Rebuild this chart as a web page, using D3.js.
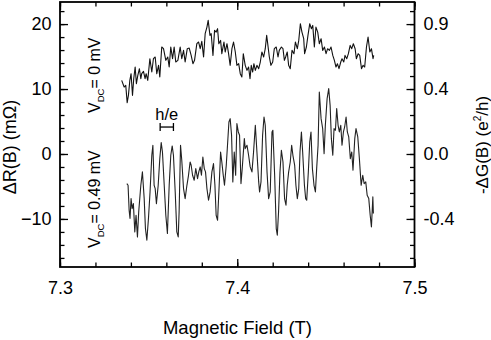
<!DOCTYPE html>
<html>
<head>
<meta charset="utf-8">
<script src="https://cdn.jsdelivr.net/npm/d3@7"></script>
<style>
  body { margin: 0; background: #fff; }
  svg text { font-family: "Liberation Sans", Arial, Helvetica, sans-serif; fill: #000; }
</style>
</head>
<body>
<div id="chart"></div>
<script>
// axis ticks
const xTicks = [7.3, 7.4, 7.5];
const leftTicks = [20, 10, 0, -10];
const rightTickLabels = ["0.9", "0.4", "0.0", "-0.4"];

// V_DC = 0 mV trace : magnetic field (T) and dR (mOhm)
const upperField = [
  7.3348, 7.3362, 7.3371, 7.3379, 7.3386, 7.3394, 7.3401, 7.3409, 7.3416, 7.3424,
  7.3431, 7.3439, 7.3448, 7.3456, 7.3461, 7.3471, 7.3480, 7.3486, 7.3495, 7.3507,
  7.3518, 7.3527, 7.3537, 7.3546, 7.3556, 7.3563, 7.3574, 7.3584, 7.3597, 7.3608,
  7.3616, 7.3625, 7.3635, 7.3644, 7.3653, 7.3665, 7.3678, 7.3687, 7.3697, 7.3706,
  7.3718, 7.3729, 7.3740, 7.3750, 7.3759, 7.3772, 7.3782, 7.3791, 7.3800, 7.3810,
  7.3819, 7.3829, 7.3836, 7.3846, 7.3853, 7.3863, 7.3872, 7.3881, 7.3889, 7.3896,
  7.3906, 7.3913, 7.3925, 7.3932, 7.3942, 7.3951, 7.3960, 7.3970, 7.3979, 7.3989,
  7.3998, 7.4008, 7.4017, 7.4026, 7.4034,
  7.4045, 7.4055, 7.4064, 7.4072, 7.4079, 7.4087, 7.4094, 7.4102, 7.4111, 7.4121,
  7.4130, 7.4139, 7.4149, 7.4158, 7.4166, 7.4173, 7.4181, 7.4190, 7.4200, 7.4209,
  7.4220, 7.4230, 7.4237, 7.4249, 7.4258, 7.4266, 7.4273, 7.4282, 7.4290, 7.4299,
  7.4309, 7.4320, 7.4328, 7.4339, 7.4347, 7.4356, 7.4365, 7.4375, 7.4380, 7.4390,
  7.4399, 7.4409, 7.4418, 7.4426, 7.4435, 7.4444, 7.4454, 7.4463, 7.4473, 7.4482,
  7.4492, 7.4501, 7.4510, 7.4520, 7.4529, 7.4539, 7.4548, 7.4557, 7.4565, 7.4574,
  7.4584, 7.4591, 7.4601, 7.4608, 7.4618, 7.4627, 7.4637, 7.4646, 7.4655, 7.4665,
  7.4672, 7.4682, 7.4691, 7.4701, 7.4710, 7.4719, 7.4729, 7.4738, 7.4748, 7.4757,
  7.4766, 7.4770
];
const upperDR = [
  11.34, 10.31, 10.57, 7.90, 9.03, 11.34, 12.36, 9.03, 11.59, 13.39,
  10.83, 12.11, 13.13, 11.59, 12.36, 12.72, 11.59, 12.36, 11.34, 14.67,
  12.62, 14.67, 14.93, 12.36, 13.65, 11.85, 16.47, 16.21, 14.42, 14.93,
  13.39, 16.47, 14.67, 16.47, 14.16, 14.42, 16.47, 14.67, 15.95, 14.16,
  16.21, 16.31, 15.18, 13.90, 14.42, 16.98, 17.24, 16.21, 17.34, 14.93,
  18.52, 19.54, 20.57, 18.26, 18.52, 15.18, 19.03, 18.77, 19.29, 16.98,
  17.49, 15.44, 17.24, 15.70, 16.98, 15.44, 13.65, 16.21, 17.24, 15.70,
  13.65, 13.90, 12.36, 11.85, 15.44,
  13.65, 12.88, 13.39, 11.59, 13.65, 12.62, 13.90, 12.88, 13.65, 13.13,
  14.16, 15.70, 14.93, 16.21, 18.26, 16.72, 14.93, 13.65, 14.16, 16.21,
  16.47, 14.93, 15.95, 16.47, 16.21, 14.42, 14.93, 15.70, 13.65, 13.13,
  15.95, 15.44, 17.24, 16.21, 17.49, 20.06, 18.77, 17.75, 15.44, 16.47,
  18.26, 20.06, 19.29, 19.80, 16.47, 19.54, 18.77, 16.98, 17.75, 15.95,
  16.47, 15.44, 16.21, 15.95, 16.47, 15.18, 14.42, 13.39, 13.90, 13.13,
  14.16, 14.67, 14.16, 15.18, 14.67, 15.44, 16.72, 16.21, 16.98, 16.21,
  14.67, 15.44, 15.18, 13.13, 13.65, 13.39, 16.47, 18.01, 15.70, 16.21,
  14.67, 15.18
];

// V_DC = 0.49 mV trace
const lowerField = [
  7.3377, 7.3384, 7.3390, 7.3395, 7.3401, 7.3407, 7.3414, 7.3422, 7.3429, 7.3437,
  7.3444, 7.3456, 7.3465, 7.3475, 7.3482, 7.3490, 7.3499, 7.3508, 7.3518, 7.3524,
  7.3531, 7.3537, 7.3544, 7.3554, 7.3563, 7.3571, 7.3578, 7.3588, 7.3597, 7.3606,
  7.3616, 7.3625, 7.3633, 7.3640, 7.3650, 7.3659, 7.3667, 7.3672, 7.3680, 7.3687,
  7.3697, 7.3706, 7.3716, 7.3725, 7.3734, 7.3740, 7.3748, 7.3757, 7.3766, 7.3776,
  7.3783, 7.3791, 7.3798, 7.3806, 7.3814, 7.3821, 7.3829, 7.3838, 7.3847, 7.3857,
  7.3866, 7.3874, 7.3881, 7.3889, 7.3898, 7.3906, 7.3913, 7.3921, 7.3928, 7.3938,
  7.3945, 7.3953, 7.3960, 7.3968, 7.3975, 7.3983, 7.3991, 7.3998, 7.4006, 7.4013,
  7.4021, 7.4028, 7.4040,
  7.4045, 7.4055, 7.4064, 7.4073, 7.4083, 7.4092, 7.4102, 7.4111, 7.4121, 7.4126,
  7.4134, 7.4143, 7.4151, 7.4158, 7.4168, 7.4177, 7.4186, 7.4196, 7.4201, 7.4211,
  7.4220, 7.4226, 7.4233, 7.4241, 7.4249, 7.4258, 7.4267, 7.4275, 7.4282, 7.4290,
  7.4299, 7.4307, 7.4314, 7.4324, 7.4331, 7.4339, 7.4347, 7.4354, 7.4362, 7.4369,
  7.4379, 7.4386, 7.4392, 7.4401, 7.4409, 7.4416, 7.4424, 7.4433, 7.4441, 7.4448,
  7.4456, 7.4463, 7.4473, 7.4482, 7.4490, 7.4497, 7.4507, 7.4516, 7.4524, 7.4531,
  7.4539, 7.4546, 7.4554, 7.4561, 7.4569, 7.4576, 7.4584, 7.4591, 7.4599, 7.4606,
  7.4614, 7.4621, 7.4629, 7.4638, 7.4646, 7.4653, 7.4663, 7.4670, 7.4680, 7.4689,
  7.4699, 7.4708, 7.4716, 7.4725, 7.4733, 7.4742, 7.4750, 7.4757, 7.4765, 7.4768
];
const lowerDR = [
  -4.56, -4.82, -8.66, -9.94, -6.87, -8.41, -7.64, -11.99, -9.43, -12.76,
  -8.92, -4.82, -2.76, -6.87, -11.48, -13.28, -9.94, -5.84, -0.20, 1.34,
  -4.82, -5.33, -7.64, -4.82, -0.71, 1.75, 0.31, -4.82, -9.43, -12.25,
  -4.82, -0.20, 1.24, -0.20, -5.84, -11.99, -12.76, -8.92, 1.34, -0.97,
  -5.33, -6.87, -4.82, -3.28, -1.23, -1.74, -3.28, -4.05, -2.25, -3.79,
  -2.76, -1.99, -3.28, -0.46, -2.25, -2.76, -5.33, -7.12, -5.84, -2.76,
  -1.48, -4.82, -9.43, -10.20, -4.82, 0.31, -1.23, -3.28, -4.82, -1.74,
  1.34, 4.93, 5.44, 2.88, -4.30, 0.31, -3.28, 4.67, 3.39, 2.88,
  -4.56, -2.25, 2.36,
  0.83, 1.34, -0.20, -1.99, -2.76, 0.31, 4.42, 0.31, -4.30, -5.84,
  -4.30, 2.88, 5.70, 4.42, -2.76, -6.87, -5.84, 3.39, 3.65, -3.28,
  -11.48, -12.51, -8.92, -2.76, 0.57, -1.23, -6.87, -7.89, -4.82, -2.76,
  -1.23, 1.34, -0.20, -1.74, -4.82, -6.87, -5.33, 0.31, 3.39, 0.31,
  -4.82, -6.87, -7.12, -2.76, 1.85, 3.39, -2.25, -4.82, -5.84, -2.25,
  1.34, 9.54, 5.44, 3.90, 0.06, 4.42, 8.52, 10.06, 7.49, 2.36,
  -0.20, 3.90, 3.65, 6.98, 4.42, 3.39, 4.42, 1.34, 3.39, 4.16,
  5.70, 3.39, 2.62, -0.71, 0.31, -2.51, 2.36, 3.90, 2.62, -0.71,
  -4.82, -3.28, -4.56, -4.30, -6.35, -6.87, -9.43, -11.23, -6.61, -9.17
];

// h/e period marker (field span, level in mOhm)
const hePeriod = [7.3565, 7.3640];
const heLevel = 4.15;

const width = 491, height = 340;
const plotLeft = 60, plotRight = 414.5, plotTop = 2, plotBottom = 267;

const svg = d3.select("#chart").append("svg")
    .attr("width", width)
    .attr("height", height);

const x = d3.scaleLinear().domain([7.3, 7.5]).range([plotLeft, plotRight]);
const y = d3.scaleLinear().domain([-17.4, 23.4]).range([plotBottom, plotTop]);

const xMinor = d3.range(0, 11).map(i => +(7.3 + i * 0.02).toFixed(2));
const yMinor = d3.range(-16, 24, 2);

// minor ticks (all four sides, pointing inward)
const minor = (axis, tx, ty) => svg.append("g")
    .attr("class", "minor")
    .attr("transform", `translate(${tx},${ty})`)
    .call(axis.tickSize(-4.5).tickFormat(""));

minor(d3.axisBottom(x).tickValues(xMinor), 0, plotBottom);
minor(d3.axisTop(x).tickValues(xMinor), 0, plotTop);
minor(d3.axisLeft(y).tickValues(yMinor), plotLeft, 0);
minor(d3.axisRight(y).tickValues(yMinor), plotRight, 0);

// major ticks with labels
svg.append("g")
    .attr("class", "major")
    .attr("transform", `translate(0,${plotBottom})`)
    .call(d3.axisBottom(x).tickValues(xTicks).tickSize(-8).tickPadding(14).tickFormat(d3.format(".1f")));

svg.append("g")
    .attr("class", "major")
    .attr("transform", `translate(0,${plotTop})`)
    .call(d3.axisTop(x).tickValues(xTicks).tickSize(-8).tickFormat(""));

svg.append("g")
    .attr("class", "major")
    .attr("transform", `translate(${plotLeft},0)`)
    .call(d3.axisLeft(y).tickValues(leftTicks).tickSize(-8).tickPadding(8.5).tickFormat(d3.format("d")));

svg.append("g")
    .attr("class", "major")
    .attr("transform", `translate(${plotRight},0)`)
    .call(d3.axisRight(y).tickValues(leftTicks).tickSize(-8).tickPadding(9)
        .tickFormat((d, i) => rightTickLabels[i]));

svg.selectAll(".domain").remove();
svg.selectAll(".tick line").attr("stroke", "#000").attr("stroke-width", 1.3);
svg.selectAll(".major text")
    .attr("font-size", 18)
    .attr("font-family", "Liberation Sans, Arial, sans-serif")
    .attr("fill", "#000");

// frame
svg.append("rect")
    .attr("x", plotLeft)
    .attr("y", plotTop)
    .attr("width", plotRight - plotLeft)
    .attr("height", plotBottom - plotTop)
    .attr("fill", "none")
    .attr("stroke", "#000")
    .attr("stroke-width", 1.8);

// traces
const line = d3.line()
    .x(d => x(d[0]))
    .y(d => y(d[1]));

svg.append("path")
    .datum(d3.zip(upperField, upperDR))
    .attr("fill", "none")
    .attr("stroke", "#111")
    .attr("stroke-width", 1.1)
    .attr("stroke-linejoin", "round")
    .attr("d", line);

svg.append("path")
    .datum(d3.zip(lowerField, lowerDR))
    .attr("fill", "none")
    .attr("stroke", "#222")
    .attr("stroke-width", 1.1)
    .attr("stroke-linejoin", "round")
    .attr("d", line);

// h/e bracket
const heY = y(heLevel);
const he = svg.append("g").attr("stroke", "#000").attr("stroke-width", 1.3);
he.append("line").attr("x1", x(hePeriod[0])).attr("x2", x(hePeriod[1])).attr("y1", heY).attr("y2", heY);
hePeriod.forEach(f => {
    he.append("line").attr("x1", x(f)).attr("x2", x(f)).attr("y1", heY - 4).attr("y2", heY + 4);
});
svg.append("text")
    .attr("x", x((hePeriod[0] + hePeriod[1]) / 2))
    .attr("y", heY - 7.5)
    .attr("text-anchor", "middle")
    .attr("font-size", 16.5)
    .text("h/e");

// V_DC labels
const vdcLabel = (yPos, rest) => {
    const t = svg.append("text")
        .attr("transform", `translate(100,${yPos}) rotate(-90)`)
        .attr("font-size", 16);
    t.append("tspan").text("V");
    t.append("tspan").attr("font-size", 9.5).attr("dy", 4).text("DC");
    t.append("tspan").attr("dy", -4).text(rest);
};
vdcLabel(113, "= 0 mV");
vdcLabel(248, "= 0.49 mV");

// axis titles
svg.append("text")
    .attr("x", 237.5)
    .attr("y", 334)
    .attr("text-anchor", "middle")
    .attr("font-size", 18.5)
    .text("Magnetic Field (T)");

svg.append("text")
    .attr("transform", "translate(16,147) rotate(-90)")
    .attr("text-anchor", "middle")
    .attr("font-size", 18)
    .text("\u0394R(B) (m\u03A9)");

const rt = svg.append("text")
    .attr("transform", "translate(488,145) rotate(-90)")
    .attr("text-anchor", "middle")
    .attr("font-size", 17);
rt.append("tspan").text("-\u0394G(B) (e");
rt.append("tspan").attr("font-size", 10).attr("dy", -7).text("2");
rt.append("tspan").attr("dy", 7).text("/h)");
</script>
</body>
</html>
